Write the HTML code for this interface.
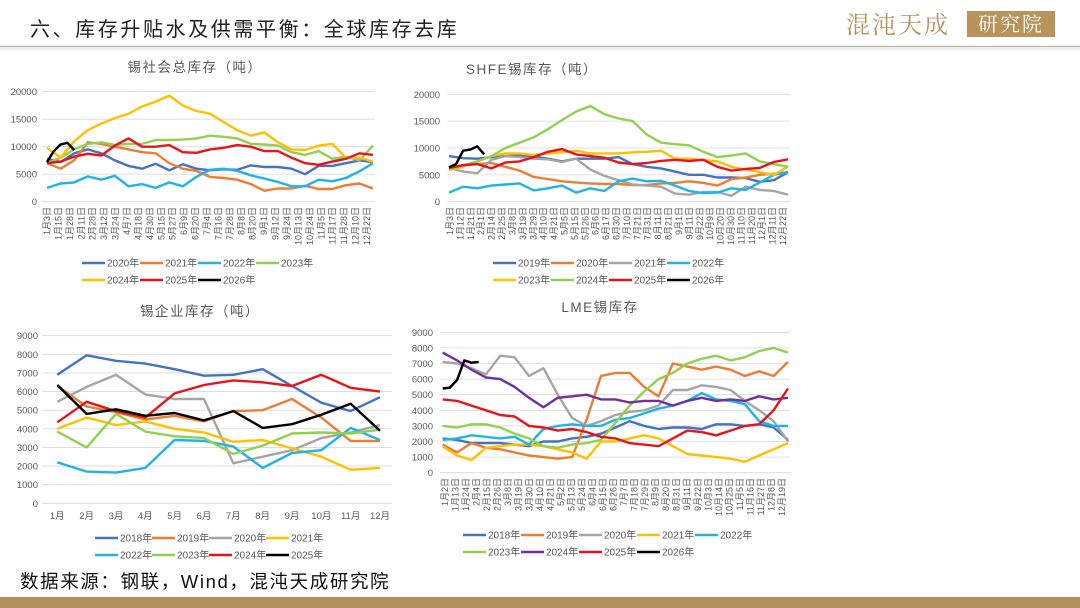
<!DOCTYPE html>
<html><head><meta charset="utf-8">
<style>
html,body{margin:0;padding:0;background:#fff;}
svg{display:block;font-family:"Liberation Sans","Noto Sans CJK SC",sans-serif;}
</style></head>
<body>
<svg id="root" width="1080" height="608" viewBox="0 0 1080 608" xmlns="http://www.w3.org/2000/svg">
  <rect x="0" y="0" width="1080" height="608" fill="#fff"/>
  <text x="30" y="36" font-size="20" fill="#222" letter-spacing="2.6" font-family="'Liberation Sans','Noto Sans CJK SC',sans-serif">六、库存升贴水及供需平衡：全球库存去库</text>
  <line x1="0" y1="46.5" x2="1080" y2="46.5" stroke="#bfb8a8" stroke-width="1.5"/>
  <line x1="0" y1="49" x2="1080" y2="49" stroke="#e6e0d4" stroke-width="1"/>
  <g>
    <text x="846" y="33" font-size="24" fill="#b8935a" letter-spacing="2" font-family="'Noto Serif CJK SC',serif">混沌天成</text>
    <rect x="967" y="11" width="88" height="26" fill="#b8935a"/>
    <text x="1011" y="31" font-size="20" fill="#fff" text-anchor="middle" letter-spacing="2" font-family="'Noto Serif CJK SC',serif">研究院</text>
  </g>
  <text x="20" y="588" font-size="18.5" fill="#111" letter-spacing="1.6" font-family="'Liberation Sans','Noto Sans CJK SC',sans-serif">数据来源：钢联，Wind，混沌天成研究院</text>
  <rect x="0" y="597" width="1080" height="11" fill="#b3915c"/>
  <g id="charts"></g>
</svg>
<script>
// ---------- Chart 1: 锡社会总库存 ----------
const c1Ticks = [0, 5000, 10000, 15000, 20000];
const c1Dates = ["1月3日","1月15日","1月28日","2月11日","2月28日","3月12日","3月24日","4月7日","4月18日","4月30日","5月15日","5月27日","6月9日","6月20日","7月4日","7月16日","7月28日","8月8日","8月20日","9月1日","9月12日","9月24日","10月13日","10月24日","11月5日","11月17日","11月28日","12月10日","12月22日"];
const c1Names = ["2020年","2021年","2022年","2023年","2024年","2025年","2026年"];
const c1_2020 = [7800,7200,8800,9500,8800,7500,6500,6000,6900,5700,6800,6000,5700,5900,5800,6600,6300,6300,6000,5000,6500,6500,7000,7500,7200];
const c1_2021 = [7000,6000,7500,10800,10500,10000,9500,9000,8800,7000,6000,5600,4500,4300,4000,3200,2000,2400,2400,2900,2300,2300,3000,3300,2400];
const c1_2022 = [2500,3300,3500,4600,4000,4700,2800,3200,2500,3500,2800,4500,5800,6000,5600,4800,4200,3600,2800,2800,4000,3700,4300,5500,7000];
const c1_2023 = [7000,8000,9500,10500,10800,10300,10500,10500,11200,11200,11300,11500,12000,11800,11500,10500,10400,10200,9000,8500,9200,7800,8200,7500,10200];
const c1_2024 = [9800,8000,11000,13000,14200,15200,16000,17300,18200,19300,17500,16500,16000,14500,13000,12000,12600,10800,9500,9400,10200,10500,8000,8000,7300];
const c1_2025 = [7000,7300,8200,8700,8400,10200,11500,10000,10000,10300,9000,8900,9500,9800,10300,10000,9200,9200,8000,7000,6700,7300,7800,8800,8500];
const c1_2026 = [7200,9200,10400,10700,9400];

// ---------- Chart 2: SHFE锡库存 ----------
const c2Ticks = [0, 5000, 10000, 15000, 20000];
const c2Dates = ["1月3日","1月12日","1月21日","2月1日","2月14日","2月25日","3月8日","3月19日","3月29日","4月10日","4月21日","5月5日","5月15日","5月26日","6月6日","6月17日","6月30日","7月10日","7月21日","7月31日","8月11日","8月21日","9月1日","9月11日","9月22日","10月9日","10月20日","10月30日","11月10日","11月20日","12月1日","12月11日","12月22日"];
const c2Names = ["2019年","2020年","2021年","2022年","2023年","2024年","2025年","2026年"];
const c2_2019 = [8500,8100,8000,8300,8500,8600,8400,8000,7500,8000,8000,8000,8300,7000,6500,6200,5600,5000,5000,4500,4500,4400,3700,4000,5500];
const c2_2020 = [6200,6800,7000,7200,6500,5800,4600,4200,3800,3600,3400,3300,3300,3100,3100,3400,3500,3800,3500,3000,4200,4500,5000,5200,5500];
const c2_2021 = [6300,5600,5300,7800,8500,8300,8000,7900,7400,8000,6000,4800,4000,3200,3000,2800,1500,1300,1800,1800,1100,2800,2200,2000,1300];
const c2_2022 = [1700,2800,2500,3000,3200,3400,2100,2500,3000,1700,2500,2000,3800,4300,3800,3900,3000,2000,1600,1700,2500,2200,3600,5000,5500];
const c2_2023 = [5900,6500,7500,8500,9000,9000,8700,9000,9200,9500,9000,9000,9000,9200,9300,9500,8000,8000,7800,7500,6500,6000,5500,5000,6500];
const c2_2024 = [6000,6800,7500,8500,10000,11000,12000,13500,15200,16800,17800,16300,15500,15000,12500,11000,10700,10500,9300,8300,8600,9000,7500,7000,6500];
const c2_2025 = [6300,6800,7000,6200,7300,7500,8300,9300,9800,8800,8500,8200,7300,7000,7200,7600,7800,7600,7800,6500,5800,6100,6300,7400,7900];
const c2_2026 = [6400,7000,9500,9700,10300,8800];

// ---------- Chart 3: 锡企业库存 ----------
const c3Ticks = [0,1000,2000,3000,4000,5000,6000,7000,8000,9000];
const c3Months = ["1月","2月","3月","4月","5月","6月","7月","8月","9月","10月","11月","12月"];
const c3Names = ["2018年","2019年","2020年","2021年","2022年","2023年","2024年","2025年"];
const c3_2018 = [6900,7950,7650,7500,7200,6850,6900,7200,6300,5400,4950,5700];
const c3_2019 = [6300,5200,4900,4500,4700,4400,4950,5000,5600,4600,3350,3350];
const c3_2020 = [5450,6250,6900,5850,5600,5600,2150,2500,2850,3500,3800,4200];
const c3_2021 = [4000,4600,4200,4400,4000,3800,3300,3400,2950,2500,1800,1900];
const c3_2022 = [2200,1700,1650,1900,3400,3350,3050,1900,2700,2850,4050,3400];
const c3_2023 = [3850,3000,4800,3850,3600,3500,2650,3100,3750,3800,3750,3950];
const c3_2024 = [4350,5450,4950,4600,5900,6350,6600,6500,6300,6900,6200,6000];
const c3_2025 = [6350,4800,5050,4700,4850,4450,4950,4050,4250,4750,5350,3900];

// ---------- Chart 4: LME锡库存 ----------
const c4Ticks = [0,1000,2000,3000,4000,5000,6000,7000,8000,9000];
const c4Dates = ["1月2日","1月13日","1月24日","2月4日","2月15日","2月26日","3月8日","3月19日","3月30日","4月10日","4月21日","5月2日","5月13日","5月24日","6月4日","6月15日","6月26日","7月7日","7月18日","7月29日","8月9日","8月20日","8月31日","9月11日","9月22日","10月3日","10月14日","10月25日","11月5日","11月16日","11月27日","12月8日","12月19日"];
const c4Names = ["2018年","2019年","2020年","2021年","2022年","2023年","2024年","2025年","2026年"];
const c4_2018 = [2200,2100,1900,1900,1900,1800,1700,2000,2000,2200,2300,2500,2900,3300,3000,2800,2900,2900,2800,3100,3100,3000,3100,2900,2100];
const c4_2019 = [1800,1300,1900,1600,1500,1300,1100,1000,900,1000,3400,6200,6400,6400,5500,4900,7000,6800,6600,6800,6600,6200,6500,6200,7100];
const c4_2020 = [7100,7000,6700,6300,7500,7400,6200,6700,5000,3500,3000,3300,3700,3900,4000,4300,5300,5300,5600,5500,5300,4600,4000,3300,2000];
const c4_2021 = [1700,1100,800,1600,1700,1800,1800,1700,1500,1300,900,2000,2000,2200,2400,2200,1700,1200,1100,1000,900,700,1100,1500,1900];
const c4_2022 = [2100,2200,2400,2300,2200,2300,1800,2800,3000,3100,3000,3000,3400,3500,3800,4100,4300,4600,5100,4700,4600,4400,3300,3000,3000];
const c4_2023 = [3000,2900,3100,3100,2900,2500,2200,1700,1600,1800,1900,2100,3200,4300,5200,6000,6400,7000,7300,7500,7200,7400,7800,8000,7700];
const c4_2024 = [7700,7200,6600,6100,6000,5500,4800,4200,4800,4900,5000,4700,4700,4500,4600,4600,4300,4600,4800,4600,4700,4600,4900,4700,4800];
const c4_2025 = [4700,4600,4300,4000,3700,3600,3000,2900,2700,2800,2600,2300,2200,1900,1800,1700,2200,2700,2600,2400,2700,3000,3100,4000,5400];
const c4_2026 = [5400,5450,5950,7200,7050,7100];

const NS = "http://www.w3.org/2000/svg";
const root = document.getElementById('charts');
const C = {blue:"#4472c4",orange:"#ed7d31",gray:"#a5a5a5",yellow:"#ffc000",cyan:"#1fb3e8",green:"#92d050",red:"#e8141c",black:"#000",purple:"#7030a0"};

function mk(tag, attrs, parent){
  const e = document.createElementNS(NS, tag);
  for (const k in attrs) e.setAttribute(k, attrs[k]);
  (parent||root).appendChild(e);
  return e;
}

function drawChart(cfg){
  const g = mk('g', {});
  
  
  const yS = v => cfg.y0 - (v - cfg.ticks[0]) / (cfg.ticks[cfg.ticks.length-1] - cfg.ticks[0]) * (cfg.y0 - cfg.y1);
  const xS = i => cfg.x0 + i / cfg.xMax * (cfg.x1 - cfg.x0);
  const t = mk('text', {x: cfg.tx, y: cfg.ty, 'font-size': 13.5, fill: '#595959', 'text-anchor': 'middle', 'letter-spacing': 1.5}, g);
  t.textContent = cfg.title;
  
  
  cfg.ticks.forEach(v => {
    const y = yS(v);
    const ln = mk('line', {x1: cfg.gx0, x2: cfg.gx1, y1: y, y2: y, stroke: '#d9d9d9', 'stroke-width': 0.8}, g);
    
    
    const tx = mk('text', {x: cfg.lx, y: y + 3.5, 'font-size': 9.5, fill: '#595959', 'text-anchor': 'end'}, g);
    tx.textContent = v;
    
    
  });
  const n = cfg.cats.length;
  cfg.cats.forEach((c, i) => {
    const x = cfg.cx0 + (n > 1 ? i / (n - 1) : 0) * (cfg.cx1 - cfg.cx0);
    let tx;
    if (cfg.rotate) {
      tx = mk('text', {x: 0, y: 0, 'font-size': 9, fill: '#595959', 'text-anchor': 'end', transform: `translate(${x + 3},${cfg.cy}) rotate(-90)`}, g);
    } else {
      tx = mk('text', {x: x, y: cfg.cy, 'font-size': 9.5, fill: '#595959', 'text-anchor': 'middle'}, g);
    }
    tx.textContent = c;
    
    
  });
  cfg.series.forEach(s => {
    const pts = s.data.map((v, i) => xS(i * s.step).toFixed(1) + ',' + yS(v).toFixed(1)).join(' ');
    const pl = mk('polyline', {points: pts, fill: 'none', stroke: s.color, 'stroke-width': 2.4, 'stroke-linejoin': 'round'}, g);
    
    
  });
  cfg.series.forEach((s, i) => {
    const row = Math.floor(i / cfg.perRow), col = i % cfg.perRow;
    const x = cfg.legX + col * cfg.legDx, y = cfg.legY + row * cfg.legDy;
    const lg = mk('g', {}, g);
    
    
    mk('line', {x1: x, x2: x + 23, y1: y, y2: y, stroke: s.color, 'stroke-width': 2.4}, lg);
    const tx = mk('text', {x: x + 25, y: y + 3.5, 'font-size': 10, fill: '#595959'}, lg);
    tx.textContent = s.name;
  });
}

drawChart({key:'chart-tin-social-inventory', title:'锡社会总库存（吨）', tx:195, ty:72,
  ticks:c1Ticks, y0:201.7, y1:91.7, x0:47, x1:373, xMax:24, gx0:42, gx1:375, lx:37,
  cats:c1Dates, cx0:47, cx1:367, cy:207, rotate:true,
  legX:82, legY:263, legDx:58, legDy:17, perRow:4,
  series:[
    {name:c1Names[0], data:c1_2020, color:C.blue, step:1},
    {name:c1Names[1], data:c1_2021, color:C.orange, step:1},
    {name:c1Names[2], data:c1_2022, color:C.cyan, step:1},
    {name:c1Names[3], data:c1_2023, color:C.green, step:1},
    {name:c1Names[4], data:c1_2024, color:C.yellow, step:1},
    {name:c1Names[5], data:c1_2025, color:C.red, step:1},
    {name:c1Names[6], data:c1_2026, color:C.black, step:0.5}
  ]});

drawChart({key:'chart-shfe-tin-inventory', title:'SHFE锡库存（吨）', tx:532, ty:74,
  ticks:c2Ticks, y0:201.7, y1:94.3, x0:449, x1:788, xMax:24, gx0:447, gx1:790, lx:440,
  cats:c2Dates, cx0:450, cx1:783, cy:207, rotate:true,
  legX:493, legY:263, legDx:58, legDy:17, perRow:4,
  series:[
    {name:c2Names[0], data:c2_2019, color:C.blue, step:1},
    {name:c2Names[1], data:c2_2020, color:C.orange, step:1},
    {name:c2Names[2], data:c2_2021, color:C.gray, step:1},
    {name:c2Names[3], data:c2_2022, color:C.cyan, step:1},
    {name:c2Names[4], data:c2_2023, color:C.yellow, step:1},
    {name:c2Names[5], data:c2_2024, color:C.green, step:1},
    {name:c2Names[6], data:c2_2025, color:C.red, step:1},
    {name:c2Names[7], data:c2_2026, color:C.black, step:0.5}
  ]});

drawChart({key:'chart-tin-enterprise-inventory', title:'锡企业库存（吨）', tx:200, ty:316,
  ticks:c3Ticks, y0:503.3, y1:335.7, x0:57.3, x1:380, xMax:11, gx0:42, gx1:392, lx:38,
  cats:c3Months, cx0:57.3, cx1:380, cy:519, rotate:false,
  legX:95, legY:538, legDx:57, legDy:17, perRow:4,
  series:[
    {name:c3Names[0], data:c3_2018, color:C.blue, step:1},
    {name:c3Names[1], data:c3_2019, color:C.orange, step:1},
    {name:c3Names[2], data:c3_2020, color:C.gray, step:1},
    {name:c3Names[3], data:c3_2021, color:C.yellow, step:1},
    {name:c3Names[4], data:c3_2022, color:C.cyan, step:1},
    {name:c3Names[5], data:c3_2023, color:C.green, step:1},
    {name:c3Names[6], data:c3_2024, color:C.red, step:1},
    {name:c3Names[7], data:c3_2025, color:C.black, step:1}
  ]});

drawChart({key:'chart-lme-tin-inventory', title:'LME锡库存', tx:600, ty:312,
  ticks:c4Ticks, y0:472.7, y1:332.3, x0:442.7, x1:788, xMax:24, gx0:440, gx1:790, lx:433,
  cats:c4Dates, cx0:445, cx1:782, cy:478, rotate:true,
  legX:463, legY:535, legDx:58, legDy:17, perRow:5,
  series:[
    {name:c4Names[0], data:c4_2018, color:C.blue, step:1},
    {name:c4Names[1], data:c4_2019, color:C.orange, step:1},
    {name:c4Names[2], data:c4_2020, color:C.gray, step:1},
    {name:c4Names[3], data:c4_2021, color:C.yellow, step:1},
    {name:c4Names[4], data:c4_2022, color:C.cyan, step:1},
    {name:c4Names[5], data:c4_2023, color:C.green, step:1},
    {name:c4Names[6], data:c4_2024, color:C.purple, step:1},
    {name:c4Names[7], data:c4_2025, color:C.red, step:1},
    {name:c4Names[8], data:c4_2026, color:C.black, step:0.5}
  ]});
</script>
</body></html>
